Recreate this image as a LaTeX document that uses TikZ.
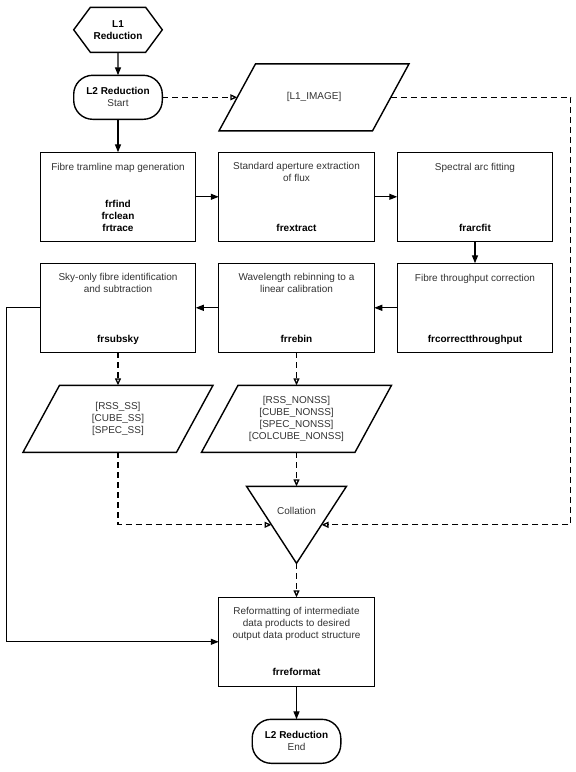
\documentclass[tikz,border=0pt]{standalone}
\usepackage{fontspec}
\setmainfont{Liberation Sans}
\usepackage{tikz}
\usetikzlibrary{%
  shapes, shapes.geometric, shapes.symbols, arrows.meta, calc, positioning
}
\usepackage{xcolor}
\newcommand{\flowfont}{\fontsize{10}{12}\selectfont}
\tikzstyle{procbox} = [%
  rectangle,
  draw=black,
  line width=1.4pt,
  minimum width=155.5pt,
  minimum height=89pt,
  inner sep=0pt,
  outer sep=0pt
]
\tikzstyle{ttl} = [%
  anchor=north,
  yshift=-10pt,
  inner sep=0pt,
  align=center,
  execute at begin node=\strut
]
\tikzstyle{cmd} = [%
  anchor=south,
  yshift=6.5pt,
  inner sep=0pt,
  align=center,
  text=black,
  font=\flowfont\bfseries,
  execute at end node=\strut
]
\tikzstyle{dataio} = [%
  rectangle,
  minimum width=153.5pt,
  minimum height=67pt,
  inner sep=0pt,
  outer sep=0pt,
  align=center,
  append after command={%
    \pgfextra{\begin{pgfinterruptpath}
      \draw[line width=1.4pt,line join=miter]
        ([xshift=18.25pt]\tikzlastnode.north west) --
        ([xshift=18.25pt]\tikzlastnode.north east) --
        ([xshift=-18.25pt]\tikzlastnode.south east) --
        ([xshift=-18.25pt]\tikzlastnode.south west) -- cycle;
    \end{pgfinterruptpath}}%
  }
]
\tikzstyle{term} = [%
  rectangle,
  rounded corners=19pt,
  draw=black,
  line width=1.4pt,
  minimum width=88.6pt,
  minimum height=44pt,
  outer sep=0pt,
  align=center
]
\tikzstyle{hexa} = [%
  signal,
  signal to=east and west,
  signal pointer angle=107,
  draw=black,
  line width=1.4pt,
  minimum width=88.6pt,
  minimum height=45pt,
  inner sep=0pt,
  outer sep=0pt,
  align=center
]
\tikzstyle{merge} = [%
  isosceles triangle,
  isosceles triangle apex angle=66,
  isosceles triangle stretches,
  shape border rotate=270,
  draw=black,
  line width=1.4pt,
  minimum width=100pt,
  minimum height=77pt,
  inner sep=0pt,
  outer sep=0pt
]

\begin{document}
\begin{tikzpicture}[%
  >=latex,
  every node/.style={%
    font=\flowfont,
    text=black!80
  },
  flow/.style={-{Triangle[length=8pt,width=6pt]},line width=1.3pt},
  dflow/.style={-{Triangle[open,length=7pt,width=6pt]},line width=1.3pt,
    dash pattern=on 6pt off 4pt}
]
  \useasboundingbox (0,0) rectangle (576pt,-772pt);

  % Nodes
  \node[hexa,text=black] (l1) at (118pt,-29.8pt) {\textbf{L1}\\\textbf{Reduction}};
  \node[term,below=23pt of l1] (start) {\textbf{\color{black}L2 Reduction}\\Start};
  \node[dataio,right=75pt of start] (img) {[L1\_IMAGE]};

  \node[procbox,below=33pt of start,
    label={[ttl]north:Fibre tramline map generation},
    label={[cmd]south:frfind\\frclean\\frtrace}] (tram) {};
  \node[procbox,right=23pt of tram,
    label={[ttl]north:Standard aperture extraction\\of flux},
    label={[cmd]south:frextract}] (extract) {};
  \node[procbox,right=23pt of extract,
    label={[ttl]north:Spectral arc fitting},
    label={[cmd]south:frarcfit}] (arcfit) {};
  \node[procbox,below=22pt of arcfit,
    label={[ttl]north:Fibre throughput correction},
    label={[cmd]south:frcorrectthroughput}] (through) {};
  \node[procbox,left=23pt of through,
    label={[ttl]north:Wavelength rebinning to a\\linear calibration},
    label={[cmd]south:frrebin}] (rebin) {};
  \node[procbox,left=23pt of rebin,
    label={[ttl]north:Sky-only fibre identification\\and subtraction},
    label={[cmd]south:frsubsky}] (subsky) {};

  \node[dataio,below=33pt of subsky] (ssdata)
    {[RSS\_SS]\\{}[CUBE\_SS]\\{}[SPEC\_SS]};
  \node[dataio,below=33pt of rebin] (nonssdata)
    {[RSS\_NONSS]\\{}[CUBE\_NONSS]\\{}[SPEC\_NONSS]\\{}[COLCUBE\_NONSS]};
  \node[merge,anchor=apex,label={[yshift=3pt]center:Collation}] (collate)
    at ($(nonssdata.south)+(0,-111pt)$) {};

  \node[procbox,below=34pt of collate.apex,
    label={[ttl]north:Reformatting of intermediate\\data products to desired\\output data product structure},
    label={[cmd,yshift=1pt]south:frreformat}] (reformat) {};
  \node[term,below=33pt of reformat] (stop) {\textbf{\color{black}L2 Reduction}\\End};

  % Turning points
  \coordinate[left=34pt of subsky.west] (wire);
  \coordinate[right=180pt of img.east] (rail);
  \coordinate (leftin) at ($(collate.right corner)!0.5!(collate.apex)$);
  \coordinate (rightin) at ($(collate.left corner)!0.5!(collate.apex)$);

  % Process edges
  \draw[flow] (l1) -- (start);
  \draw[flow] (start) -- (tram);
  \draw[flow] (tram) -- (extract);
  \draw[flow] (extract) -- (arcfit);
  \draw[flow] (arcfit) -- (through);
  \draw[flow] (through) -- (rebin);
  \draw[flow] (rebin) -- (subsky);
  \draw[flow] (subsky) -- (wire) |- (reformat);
  \draw[flow] (reformat) -- (stop);

  % Data edges
  \draw[dflow] (start) -- (img);
  \draw[dflow] (img) -- (rail) |- (rightin);
  \draw[dflow] (subsky) -- (ssdata);
  \draw[dflow] (rebin) -- (nonssdata);
  \draw[dflow] (ssdata) |- (leftin);
  \draw[dflow] (nonssdata) -- (collate);
  \draw[dflow] (collate.apex) -- (reformat);

\end{tikzpicture}
\end{document}
